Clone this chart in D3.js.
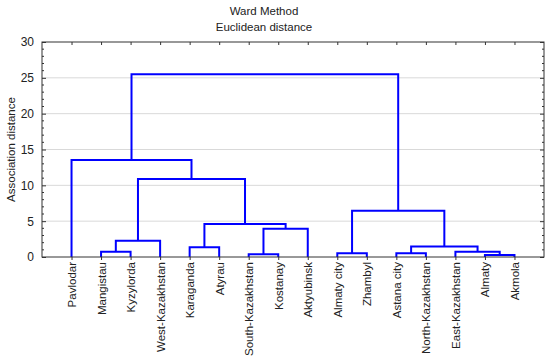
<!DOCTYPE html>
<html>
<head>
<meta charset="utf-8">
<script src="https://cdn.jsdelivr.net/npm/d3@7"></script>
<style>
  body { margin: 0; background: #fff; }
  text { font-family: "Liberation Sans", Arial, sans-serif; fill: #222; }
</style>
</head>
<body>
<div id="chart"></div>
<script>
var svgWidth = 550;
var svgHeight = 358;

var margin = { top: 42, right: 6, bottom: 101, left: 42 };
var width = svgWidth - margin.left - margin.right;
var height = svgHeight - margin.top - margin.bottom;

// leaf order
var leaves = ["Pavlodar", "Mangistau", "Kyzylorda", "West-Kazakhstan", "Karaganda",
  "Atyrau", "South-Kazakhstan", "Kostanay", "Aktyubinsk", "Almaty city", "Zhambyl",
  "Astana city", "North-Kazakhstan", "East-Kazakhstan", "Almaty", "Akmola"];

// merges: left child, right child, height; children are leaf names or merge ids "m0".."m14"
var mergeLeft = ["Mangistau", "m0", "Karaganda", "South-Kazakhstan", "m3", "m2", "m1",
  "Pavlodar", "Almaty city", "Astana city", "Almaty", "East-Kazakhstan", "m9", "m8", "m7"];
var mergeRight = ["Kyzylorda", "West-Kazakhstan", "Atyrau", "Kostanay", "Aktyubinsk", "m4", "m5",
  "m6", "Zhambyl", "North-Kazakhstan", "Akmola", "m10", "m11", "m12", "m13"];
var mergeHeight = [0.75, 2.27, 1.35, 0.38, 3.95, 4.6, 10.9,
  13.55, 0.52, 0.52, 0.28, 0.74, 1.48, 6.45, 25.5];

var yTicks = [0, 5, 10, 15, 20, 25, 30];

var svg = d3.select("#chart").append("svg")
  .attr("width", svgWidth)
  .attr("height", svgHeight);

var chartGroup = svg.append("g")
  .attr("transform", `translate(${margin.left}, ${margin.top})`);

var xScale = d3.scalePoint()
  .domain(leaves)
  .range([0, width])
  .padding(1);

var yScale = d3.scaleLinear()
  .domain([0, 30])
  .range([height, 0]);

// grid lines
chartGroup.selectAll(".grid")
  .data(yTicks.filter(d => d > 0 && d < 30))
  .enter()
  .append("line")
  .attr("x1", 0)
  .attr("x2", width)
  .attr("y1", d => yScale(d))
  .attr("y2", d => yScale(d))
  .attr("stroke", "#d9d9d9")
  .attr("stroke-width", 1);

// node positions: leaves at their band, merges at the midpoint of children
var nodes = {};
leaves.forEach(function(name) {
  nodes[name] = { x: xScale(name), h: 0 };
});

var links = mergeHeight.map(function(h, i) {
  var a = nodes[mergeLeft[i]];
  var b = nodes[mergeRight[i]];
  var n = { x: (a.x + b.x) / 2, h: h, a: a, b: b };
  nodes["m" + i] = n;
  return n;
});

chartGroup.selectAll(".link")
  .data(links)
  .enter()
  .append("path")
  .attr("fill", "none")
  .attr("stroke", "#0000ff")
  .attr("stroke-width", 2)
  .attr("d", function(n) {
    return `M${n.a.x},${yScale(n.a.h)}V${yScale(n.h)}H${n.b.x}V${yScale(n.b.h)}`;
  });

// frame
chartGroup.append("rect")
  .attr("width", width)
  .attr("height", height)
  .attr("fill", "none")
  .attr("stroke", "#333")
  .attr("stroke-width", 1);

// left axis
var leftAxis = d3.axisLeft(yScale).tickValues(yTicks).tickSize(-4).tickPadding(8);
var yAxis = chartGroup.append("g").call(leftAxis);
yAxis.select(".domain").remove();
yAxis.selectAll("text").style("font-size", "12px").attr("fill", "#222");
yAxis.selectAll("line").attr("stroke", "#333");

// minor ticks left and right
var minor = d3.range(0, 31).filter(d => d % 5 !== 0);
chartGroup.selectAll(".minorL")
  .data(minor).enter().append("line")
  .attr("x1", 0).attr("x2", 2)
  .attr("y1", d => yScale(d)).attr("y2", d => yScale(d))
  .attr("stroke", "#333");

var rightAxis = d3.axisRight(yScale).tickValues(yTicks).tickSize(-4).tickFormat("");
var yAxisR = chartGroup.append("g")
  .attr("transform", `translate(${width}, 0)`)
  .call(rightAxis);
yAxisR.select(".domain").remove();
yAxisR.selectAll("line").attr("stroke", "#333");
chartGroup.selectAll(".minorR")
  .data(minor).enter().append("line")
  .attr("x1", width - 2).attr("x2", width)
  .attr("y1", d => yScale(d)).attr("y2", d => yScale(d))
  .attr("stroke", "#333");

// top ticks
var topAxis = d3.axisTop(xScale).tickSize(-3).tickFormat("");
var xAxisT = chartGroup.append("g").call(topAxis);
xAxisT.select(".domain").remove();
xAxisT.selectAll("line").attr("stroke", "#333");

// bottom axis with rotated labels
var bottomAxis = d3.axisBottom(xScale).tickSize(3).tickPadding(3);
var xAxis = chartGroup.append("g")
  .attr("transform", `translate(0, ${height})`)
  .call(bottomAxis);
xAxis.select(".domain").remove();
xAxis.selectAll("line").attr("stroke", "#333");
xAxis.selectAll("text")
  .style("font-size", "11.5px")
  .attr("fill", "#222")
  .attr("text-anchor", "end")
  .attr("transform", "rotate(-90)")
  .attr("x", -5)
  .attr("y", 0)
  .attr("dy", "0.35em");

// titles
svg.append("text")
  .attr("x", 264)
  .attr("y", 15)
  .attr("text-anchor", "middle")
  .style("font-size", "11.5px")
  .text("Ward Method");

svg.append("text")
  .attr("x", 264)
  .attr("y", 31)
  .attr("text-anchor", "middle")
  .style("font-size", "11.5px")
  .text("Euclidean distance");

svg.append("text")
  .attr("transform", "rotate(-90)")
  .attr("x", -(margin.top + height / 2))
  .attr("y", 15)
  .attr("text-anchor", "middle")
  .style("font-size", "11.5px")
  .text("Association distance");
</script>
</body>
</html>
